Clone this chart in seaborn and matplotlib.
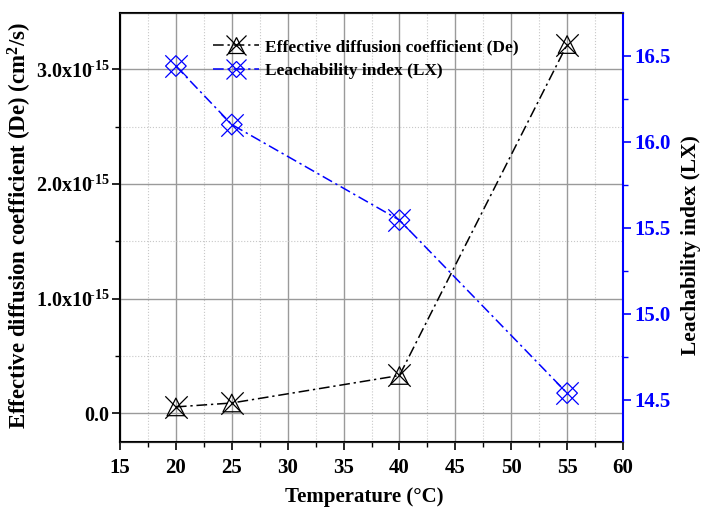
import numpy as np
import matplotlib
matplotlib.use("Agg")
import matplotlib.pyplot as plt
from matplotlib.ticker import MultipleLocator, FixedLocator, FixedFormatter
from matplotlib.lines import Line2D
import seaborn as sns

sns.set_style("white")
plt.rcParams['font.family'] = ['Liberation Serif', 'DejaVu Serif']
plt.rcParams['font.weight'] = 'bold'
plt.rcParams['text.color'] = 'black'
plt.rcParams['axes.labelcolor'] = 'black'
plt.rcParams['xtick.color'] = 'black'
plt.rcParams['ytick.color'] = 'black'
plt.rcParams['mathtext.fontset'] = 'custom'
plt.rcParams['mathtext.rm'] = 'Liberation Serif:bold'
plt.rcParams['mathtext.bf'] = 'Liberation Serif:bold'
plt.rcParams['mathtext.it'] = 'Liberation Serif:bold'

temperature = [20, 25, 40, 55]
de_values = [0.056e-15, 0.09e-15, 0.33e-15, 3.215e-15]
lx_values = [16.44, 16.10, 15.545, 14.54]
de_ticks = [0.0, 1.0e-15, 2.0e-15, 3.0e-15]
de_tick_labels = ["0.0", r"1.0x10$^{\!\text{-15}}$", r"2.0x10$^{\!\text{-15}}$", r"3.0x10$^{\!\text{-15}}$"]
lx_ticks = [14.5, 15.0, 15.5, 16.0, 16.5]

fig = plt.figure(figsize=(7.02, 5.08), dpi=100)
ax = fig.add_axes([120 / 702, 1 - 442 / 508, 503 / 702, 429 / 508])
ax2 = ax.twinx()

dash = (7, 2.5, 1.5, 2.5)
lw = 1.1

# De series: line + crossed-triangle markers
sns.lineplot(x=temperature, y=de_values, ax=ax, color="black", linewidth=lw)
ax.lines[-1].set_dashes(dash)
sns.scatterplot(x=temperature, y=de_values, ax=ax, marker="x", s=260, color="black", linewidth=0.9, zorder=5)
ax.scatter(temperature, de_values, marker="^", s=160, facecolors="none", edgecolors="black", linewidths=0.9, zorder=5)

# LX series: line + crossed-diamond markers
sns.lineplot(x=temperature, y=lx_values, ax=ax2, color="blue", linewidth=lw)
ax2.lines[-1].set_dashes(dash)
sns.scatterplot(x=temperature, y=lx_values, ax=ax2, marker="x", s=260, color="blue", linewidth=0.9, zorder=5)
ax2.scatter(temperature, lx_values, marker="D", s=110, facecolors="none", edgecolors="blue", linewidths=0.9, zorder=5)

ax.set_xlim(15, 60)
ax.set_ylim(-0.25e-15, 3.49e-15)
ax2.set_ylim(14.256, 16.748)

ax.xaxis.set_major_locator(MultipleLocator(5))
ax.xaxis.set_minor_locator(MultipleLocator(2.5))
ax.yaxis.set_major_locator(FixedLocator(de_ticks))
ax.yaxis.set_major_formatter(FixedFormatter(de_tick_labels))
ax.yaxis.set_minor_locator(MultipleLocator(0.5e-15))
ax2.yaxis.set_major_locator(FixedLocator(lx_ticks))
ax2.yaxis.set_minor_locator(MultipleLocator(0.25))

ax.grid(True, which="major", color="#9a9a9a", linewidth=1.0, linestyle="-")
ax.grid(True, which="minor", color="#c8c8c8", linewidth=0.8, linestyle=":")
ax.set_axisbelow(True)
ax2.grid(False)

ax.tick_params(axis="x", which="major", direction="out", length=5.5, width=1.2,
               labelsize=15, bottom=True, pad=6, colors="black")
ax.tick_params(axis="y", which="major", direction="out", length=5.5, width=1.2,
               labelsize=14.5, left=True, pad=2, colors="black")
ax.tick_params(axis="both", which="minor", direction="out", length=3.5, width=1.0,
               bottom=True, left=True, colors="black")
ax2.tick_params(axis="y", which="major", direction="out", length=5.5, width=1.2,
                colors="blue", labelsize=15, right=True, pad=2.5)
ax2.tick_params(axis="y", which="minor", direction="out", length=3.5, width=1.0,
                colors="blue", right=True)
for lab in ax.get_xticklabels() + ax.get_yticklabels() + ax2.get_yticklabels():
    lab.set_fontweight("bold")

for s in ["left", "bottom", "top"]:
    ax.spines[s].set_color("black")
    ax.spines[s].set_linewidth(1.5)
ax2.spines["right"].set_color("blue")
ax2.spines["right"].set_linewidth(1.5)
ax2.spines["left"].set_visible(False)
ax.spines["right"].set_visible(False)

ax.set_xlabel("Temperature (\u00b0C)", fontsize=15, fontweight="bold", color="black")
ax.xaxis.set_label_coords(0.485, -0.105)
ax.set_ylabel("Effective diffusion coefficient (De) (cm$^{2}$/s)", fontsize=16.5,
              fontweight="bold", color="black")
ax.yaxis.set_label_coords(-0.17, 0.505)
ax2.set_ylabel("Leachability index (LX)", fontsize=15.5, fontweight="bold", color="black")
ax2.yaxis.set_label_coords(1.116, 0.458)

h1a = Line2D([], [], color="black", linewidth=lw, dashes=dash, marker="x", markersize=14, markeredgewidth=0.9)
h1b = Line2D([], [], color="black", linewidth=0, marker="^", markersize=11, markerfacecolor="none", markeredgewidth=0.9)
h2a = Line2D([], [], color="blue", linewidth=lw, dashes=dash, marker="x", markersize=14, markeredgewidth=0.9)
h2b = Line2D([], [], color="blue", linewidth=0, marker="D", markersize=8.5, markerfacecolor="none", markeredgewidth=0.9)
ax2.legend([(h1a, h1b), (h2a, h2b)],
           ["Effective diffusion coefficient (De)", "Leachability index (LX)"],
           loc="upper left", bbox_to_anchor=(0.165, 0.964), frameon=False,
           prop={"size": 12.5, "weight": "bold"}, handlelength=2.6,
           handletextpad=0.4, labelspacing=0.45, borderaxespad=0.2)

fig.savefig("out.png", dpi=100)
